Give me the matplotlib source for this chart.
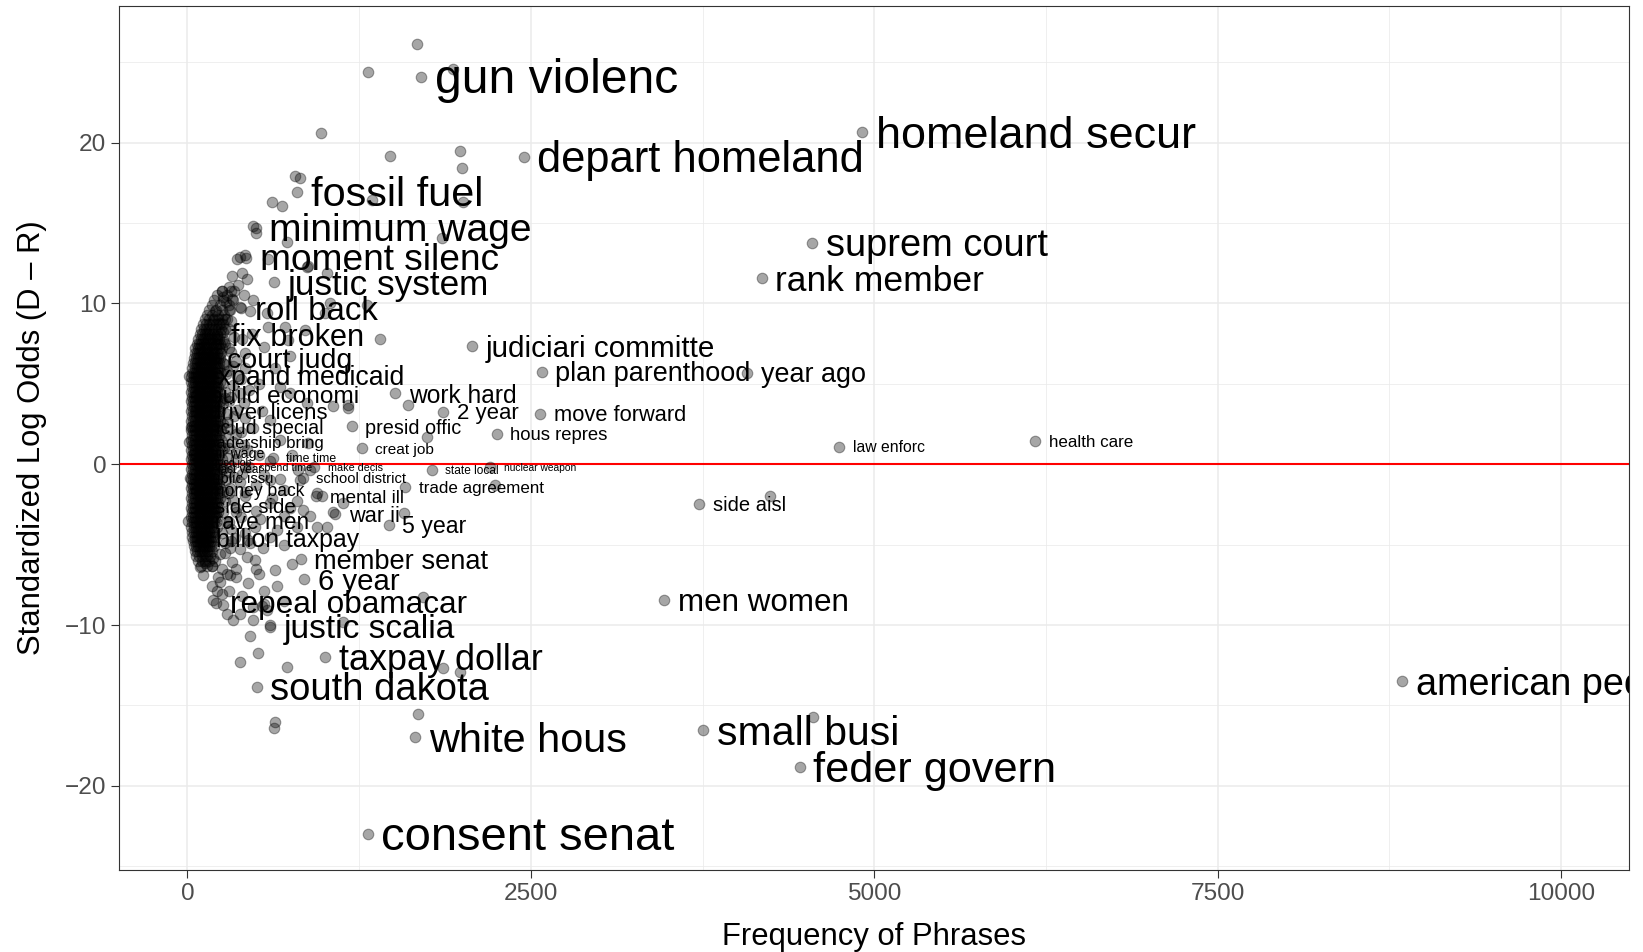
import numpy as np
import matplotlib.pyplot as plt
from matplotlib.ticker import FixedLocator
from matplotlib.transforms import offset_copy

# labelled phrases: frequency and standardized log odds (D - R)
lab_text = ["gun violenc", "homeland secur", "depart homeland", "fossil fuel", "minimum wage",
            "moment silenc", "justic system", "roll back", "fix broken", "court judg",
            "expand medicaid", "build economi", "driver licens", "includ special", "leadership bring",
            "fair wage", "time time", "good job", "spend time", "make decis",
            "last year", "state local", "nuclear weapon", "school district", "public issu",
            "money back", "trade agreement", "mental ill", "side side", "side aisl",
            "war ii", "brave men", "5 year", "billion taxpay", "member senat",
            "6 year", "repeal obamacar", "men women", "justic scalia", "taxpay dollar",
            "south dakota", "american peopl", "small busi", "white hous", "feder govern",
            "consent senat", "suprem court", "rank member", "judiciari committe", "plan parenthood",
            "year ago", "work hard", "2 year", "move forward", "presid offic",
            "hous repres", "creat job", "law enforc", "health care"]
lab_freq = [1702, 4913, 2447, 800, 496,
            427, 633, 389, 214, 191,
            10, 60, 60, 25, 10,
            45, 620, 80, 418, 920,
            120, 1778, 2202, 839, 20,
            62, 1587, 939, 100, 3723,
            1074, 5, 1465, 110, 824,
            848, 211, 3471, 603, 1001,
            504, 8842, 3753, 1656, 4456,
            1312, 4547, 4181, 2069, 2579,
            4073, 1511, 1863, 2566, 1195,
            2251, 1268, 4746, 6172]
lab_z = [24.1, 20.65, 19.1, 16.95, 14.7,
         12.85, 11.3, 9.7, 8.0, 6.6,
         5.5, 4.3, 3.3, 2.3, 1.4,
         0.7, 0.4, 0.15, -0.2, -0.2,
         -0.3, -0.35, -0.15, -0.85, -0.85,
         -1.6, -1.43, -2.0, -2.6, -2.47,
         -3.1, -3.5, -3.75, -4.6, -5.9,
         -7.15, -8.6, -8.47, -10.1, -12.0,
         -13.85, -13.5, -16.55, -16.95, -18.83,
         -23.0, 13.75, 11.55, 7.35, 5.75,
         5.67, 4.4, 3.25, 3.15, 2.35,
         1.9, 1.0, 1.1, 1.44]

# other phrases outside the dense core
pt_freq = [1671, 1312, 1930, 969, 1474, 1984, 2001, 819, 780, 1341, 2006, 1851, 613, 686,
           477, 499, 722, 382, 358, 419, 586, 868, 1013, 322, 395, 431, 370, 249, 261, 322,
           382, 455, 479, 577, 1037, 1001, 200, 188, 588, 710, 855, 734, 746, 877, 1305, 1401,
           673, 746, 868, 1060, 1169, 601, 478, 673, 1171, 1608, 1741,
           673, 806, 892, 820, 941, 977, 795, 601, 843, 892, 1060, 1133, 941, 1013, 795, 491,
           431, 491, 322, 186, 127, 115, 91, 176, 249, 443, 649, 237, 213, 188, 261, 285, 334,
           479, 577, 560, 540, 601, 455, 516, 382, 722, 637, 630, 1133, 2239, 1573, 1718, 1863,
           1984, 1681, 4554, 4241,
           300, 350, 420, 280, 330, 390, 450, 520, 300, 360, 420, 540, 290, 350, 410, 300, 520,
           600, 350, 450, 300, 380, 500, 560, 300, 420, 700, 350, 500, 700, 300, 420, 600, 320,
           380, 550, 270, 700, 760, 650, 750, 600, 760, 880, 640, 560, 470, 300, 640, 520, 350,
           300, 400, 480, 560, 700, 380, 250, 496, 275, 265, 310, 455, 525, 615, 275,
           235, 255, 270, 245, 265, 290, 250, 275, 260, 285, 255, 275, 265, 290, 260, 280, 255,
           275, 260, 285, 250, 270, 240, 300, 320, 340, 315, 330, 360, 320, 340, 310, 330, 350,
           320, 340, 310, 330, 350, 320, 345, 310, 400, 420, 380, 410, 390, 430, 400, 420, 390,
           440, 280, 300, 340, 410, 350, 290, 220, 180]
pt_z = [26.1, 24.4, 24.55, 20.6, 19.15, 19.45, 18.4, 17.8, 17.9, 16.4, 16.3, 14.05, 16.3, 16.05,
        14.8, 14.4, 13.8, 12.9, 12.75, 13.0, 12.75, 12.25, 11.9, 11.7, 11.9, 11.5, 11.15, 10.8, 10.4, 10.3,
        9.8, 9.5, 10.2, 9.4, 10.0, 9.4, 9.5, 8.95, 8.55, 8.55, 8.35, 7.7, 6.7, 12.3, 9.9, 7.8,
        4.8, 4.4, 3.8, 3.6, 3.5, 2.75, 2.25, 1.5, 3.7, 3.7, 1.7,
        -0.9, -0.35, -0.35, -1.0, -1.8, -2.0, -2.3, -2.4, -2.85, -3.25, -3.0, -2.4, -3.9, -3.9, -3.9, -3.9,
        -5.75, -5.95, -6.1, -5.85, -6.15, -6.9, -6.4, -6.3, -6.5, -7.4, -7.6, -7.3, -7.9, -8.45, -8.75, -9.3, -9.7,
        -9.7, -9.05, -8.7, -8.8, -10.0, -10.7, -11.75, -12.3, -12.6, -16.0, -16.4, -9.8, -1.3, -3.05, -8.25, -12.7,
        -12.9, -15.5, -15.7, -1.95,
        7.2, 6.4, 6.9, 5.6, 4.9, 5.3, 4.6, 5.0, 3.9, 3.4, 2.9, 3.3, 2.6, 1.9, 1.2, 1.0, 0.6,
        0.2, 0.3, -0.2, -0.5, -1.1, -1.3, -0.7, -1.8, -2.0, -1.6, -2.7, -2.9, -3.2, -3.6, -4.3, -4.5, -4.8,
        -5.3, -5.2, -5.5, -5.0, -6.2, -4.1, -2.7, -1.0, 0.6, 1.3, 6.0, 7.3, 8.1, 8.4, -6.6, -6.8, -7.0,
        -7.9, -8.2, -8.9, -7.9, -8.5, -9.3, -8.1, -6.5, 9.0, 7.6, -6.9, -4.9, -3.4, -2.1, 4.1,
        8.8, 8.2, 7.5, 6.9, 6.2, 5.8, 5.0, 4.5, 3.8, 3.1, 2.5, 1.8, 1.0, 0.4, -0.3, -1.0, -1.7,
        -2.3, -3.0, -3.6, -4.3, -4.9, -5.6, 9.6, 8.9, 7.9, 7.0, 6.1, 5.5, 4.2, 3.0, 2.2, 1.4, 0.7,
        -0.1, -0.8, -1.5, -2.2, -3.0, -4.0, -4.6, -5.2, 7.8, 6.0, 4.4, 3.8, 2.0, 0.9, -0.6, -1.7, -3.3,
        -4.7, 10.1, 11.0, 10.8, 10.5, -6.5, -6.8, -7.0, -7.6]

# dense core of rare phrases: each row is (log odds, [frequencies])
bulk_rows = [
    (10.8, [250, 320]),
    (10.5, [215, 290]),
    (10.2, [190, 260, 330]),
    (9.9, [175, 235, 300]),
    (9.6, [160, 205, 250, 310]),
    (9.3, [140, 180, 220, 265]),
    (9.0, [130, 160, 190, 220, 250, 290]),
    (8.7, [112, 135, 158, 181, 204, 227, 260]),
    (8.4, [98, 118, 138, 158, 178, 198, 220, 245, 275]),
    (8.1, [88, 106, 124, 142, 160, 178, 196, 214, 240]),
    (7.8, [78, 95, 112, 129, 146, 163, 180, 197, 214, 232, 255]),
    (7.5, [68, 85, 102, 119, 136, 153, 170, 187, 204, 221, 240]),
    (7.2, [58, 75, 92, 109, 126, 143, 160, 177, 194, 211, 228, 250]),
    (6.9, [52, 68, 84, 100, 116, 132, 148, 164, 180, 196, 212, 240]),
    (6.6, [46, 62, 78, 94, 110, 126, 142, 158, 174, 190, 206, 222, 236]),
    (6.3, [40, 56, 72, 88, 104, 120, 136, 152, 168, 184, 200, 216, 232, 255]),
    (6.0, [36, 52, 68, 84, 100, 116, 132, 148, 164, 180, 196, 212, 226]),
    (5.7, [32, 48, 64, 80, 96, 112, 128, 144, 160, 176, 192, 208, 224, 245]),
    (5.4, [28, 44, 60, 76, 92, 108, 124, 140, 156, 172, 188, 204, 220]),
    (5.1, [26, 42, 58, 74, 90, 106, 122, 138, 154, 170, 186, 202, 218, 236]),
    (4.8, [30, 46, 62, 78, 94, 110, 126, 142, 158, 174, 190, 206, 222]),
    (4.5, [25, 41, 57, 73, 89, 105, 121, 137, 153, 169, 185, 201, 217, 233]),
    (4.2, [33, 49, 65, 81, 97, 113, 129, 145, 161, 177, 193, 209, 225]),
    (3.9, [25, 41, 57, 73, 89, 105, 121, 137, 153, 169, 185, 201, 217, 236]),
    (3.6, [33, 49, 65, 81, 97, 113, 129, 145, 161, 177, 193, 209, 228]),
    (3.3, [25, 41, 57, 73, 89, 105, 121, 137, 153, 169, 185, 201, 217, 240]),
    (3.0, [33, 49, 65, 81, 97, 113, 129, 145, 161, 177, 193, 209, 230]),
    (2.7, [25, 41, 57, 73, 89, 105, 121, 137, 153, 169, 185, 201, 217, 238]),
    (2.4, [33, 49, 65, 81, 97, 113, 129, 145, 161, 177, 193, 209, 228]),
    (2.1, [25, 41, 57, 73, 89, 105, 121, 137, 153, 169, 185, 201, 217, 242]),
    (1.8, [33, 49, 65, 81, 97, 113, 129, 145, 161, 177, 193, 209, 232]),
    (1.5, [25, 41, 57, 73, 89, 105, 121, 137, 153, 169, 185, 201, 217, 245]),
    (1.2, [33, 49, 65, 81, 97, 113, 129, 145, 161, 177, 193, 209, 235]),
    (0.9, [25, 41, 57, 73, 89, 105, 121, 137, 153, 169, 185, 201, 217, 248]),
    (0.6, [33, 49, 65, 81, 97, 113, 129, 145, 161, 177, 193, 209, 232]),
    (0.3, [25, 41, 57, 73, 89, 105, 121, 137, 153, 169, 185, 201, 217, 250]),
    (0.0, [33, 49, 65, 81, 97, 113, 129, 145, 161, 177, 193, 209, 235]),
    (-0.3, [25, 41, 57, 73, 89, 105, 121, 137, 153, 169, 185, 201, 217, 248]),
    (-0.6, [33, 49, 65, 81, 97, 113, 129, 145, 161, 177, 193, 209, 232]),
    (-0.9, [25, 41, 57, 73, 89, 105, 121, 137, 153, 169, 185, 201, 217, 245]),
    (-1.2, [33, 49, 65, 81, 97, 113, 129, 145, 161, 177, 193, 209, 230]),
    (-1.5, [25, 41, 57, 73, 89, 105, 121, 137, 153, 169, 185, 201, 217, 238]),
    (-1.8, [33, 49, 65, 81, 97, 113, 129, 145, 161, 177, 193, 209, 226]),
    (-2.1, [25, 41, 57, 73, 89, 105, 121, 137, 153, 169, 185, 201, 217, 235]),
    (-2.4, [33, 49, 65, 81, 97, 113, 129, 145, 161, 177, 193, 209, 225]),
    (-2.7, [25, 41, 57, 73, 89, 105, 121, 137, 153, 169, 185, 201, 217]),
    (-3.0, [33, 49, 65, 81, 97, 113, 129, 145, 161, 177, 193, 209, 222]),
    (-3.3, [25, 41, 57, 73, 89, 105, 121, 137, 153, 169, 185, 201, 215]),
    (-3.6, [33, 49, 65, 81, 97, 113, 129, 145, 161, 177, 193, 208]),
    (-3.9, [28, 44, 60, 76, 92, 108, 124, 140, 156, 172, 188, 212]),
    (-4.2, [32, 48, 64, 80, 96, 112, 128, 144, 160, 176, 192]),
    (-4.5, [36, 52, 68, 84, 100, 116, 132, 148, 164, 180, 200]),
    (-4.8, [40, 56, 72, 88, 104, 120, 136, 152, 168, 184]),
    (-5.1, [46, 62, 78, 94, 110, 126, 142, 158, 174, 195]),
    (-5.4, [55, 72, 89, 106, 123, 140, 160, 180]),
    (-5.7, [65, 85, 105, 125, 145, 165]),
    (-6.0, [80, 105, 130, 155, 200]),
    (-6.3, [95, 140, 180]),
]

bulk_freq = [f for z, fs in bulk_rows for f in fs]
bulk_z = [z for z, fs in bulk_rows for f in fs]

all_freq = np.array(bulk_freq + pt_freq + lab_freq, dtype=float)
all_z = np.array(bulk_z + pt_z + lab_z, dtype=float)

plt.rcParams['font.family'] = ['Liberation Sans', 'DejaVu Sans']

fig = plt.figure(figsize=(16.43, 9.52), dpi=100)
ax = fig.add_axes([0.07273, 0.08613, 0.91874, 0.90725])

ax.set_xlim(-495, 10495)
ax.set_ylim(-25.23, 28.47)

# theme_bw style grid
ax.xaxis.set_major_locator(FixedLocator([0, 2500, 5000, 7500, 10000]))
ax.xaxis.set_minor_locator(FixedLocator([1250, 3750, 6250, 8750]))
ax.yaxis.set_major_locator(FixedLocator([-20, -10, 0, 10, 20]))
ax.yaxis.set_minor_locator(FixedLocator([-25, -15, -5, 5, 15, 25]))
ax.grid(which='major', color='#ebebeb', linewidth=1.1, zorder=0)
ax.grid(which='minor', color='#ebebeb', linewidth=0.55, zorder=0)
ax.set_axisbelow(True)

ax.axhline(0, color='#ff0000', linewidth=1.5, zorder=1)

ax.scatter(all_freq, all_z, s=58, color='black', alpha=0.35, linewidths=0.8, zorder=2)

# label size grows with |log odds|
for t, f, z in zip(lab_text, lab_freq, lab_z):
    fs = (7.0 + 8.36 * np.sqrt(abs(z))) * 0.72
    tr = offset_copy(ax.transData, fig=fig, x=0, y=-0.09 * fs, units='points')
    ax.text(f + 100, z, t, fontsize=fs, ha='left', va='center', transform=tr,
            color='black', clip_on=True, zorder=3)

for sp in ax.spines.values():
    sp.set_color('#333333')
    sp.set_linewidth(0.8)

ax.tick_params(which='major', length=5.5, width=0.8, color='#333333',
               labelcolor='#4d4d4d', labelsize=17.6, pad=4)
ax.tick_params(which='minor', length=0)

ax.set_xlabel('Frequency of Phrases', fontsize=22.3, color='black', labelpad=12)
ax.set_ylabel('Standardized Log Odds (D – R)', fontsize=22.3, color='black', labelpad=13)

fig.savefig('out.png', dpi=100)
